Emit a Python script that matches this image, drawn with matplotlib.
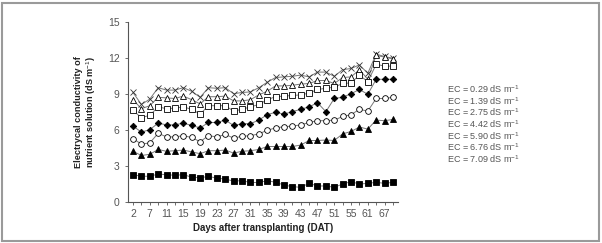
import matplotlib
matplotlib.use("Agg")
import matplotlib.pyplot as plt
from matplotlib.patches import Rectangle

# ---------------------------------------------------------------- data
days = ["2", "5", "7", "9", "11", "13", "15", "17", "19", "21", "23", "25", "27", "29", "31", "33",
        "35", "37", "39", "41", "43", "45", "47", "49", "51", "53", "55", "58", "61", "64", "67", "69"]
shown_days = ["2", "7", "11", "15", "19", "23", "27", "31", "35", "39", "43", "47", "51", "55", "61", "67"]

ec_x = [9.1, 8.1, 8.55, 9.5, 9.3, 9.3, 9.5, 9.2, 8.7, 9.5, 9.45, 9.5, 9.0, 9.1, 9.15, 9.5,
        9.95, 10.35, 10.4, 10.45, 10.55, 10.4, 10.8, 10.8, 10.45, 11.0, 11.1, 11.4, 10.7, 12.3, 12.1, 11.95]
ec_tri_open = [8.5, 7.75, 8.0, 8.7, 8.65, 8.6, 8.8, 8.5, 8.15, 8.75, 8.75, 8.8, 8.4, 8.4, 8.5, 8.9,
               9.2, 9.65, 9.65, 9.7, 9.8, 9.85, 10.1, 10.1, 9.85, 10.35, 10.4, 11.0, 10.2, 12.2, 12.05, 11.9]
ec_sq_open = [7.6, 7.0, 7.2, 7.9, 7.75, 7.8, 7.9, 7.7, 7.3, 8.0, 8.0, 8.0, 7.55, 7.7, 7.9, 8.1,
              8.5, 8.75, 8.8, 8.85, 8.9, 9.05, 9.35, 9.45, 9.55, 9.85, 9.9, 10.55, 10.0, 11.45, 11.3, 11.3]
ec_diamond = [6.3, 5.8, 6.0, 6.55, 6.4, 6.4, 6.55, 6.35, 6.15, 6.6, 6.6, 6.8, 6.35, 6.5, 6.5, 6.8,
              7.25, 7.45, 7.3, 7.5, 7.7, 7.9, 8.25, 7.5, 8.6, 8.7, 9.0, 9.35, 8.95, 10.2, 10.2, 10.2]
ec_circle = [5.25, 4.8, 4.9, 5.7, 5.4, 5.4, 5.5, 5.35, 5.0, 5.5, 5.4, 5.6, 5.3, 5.45, 5.5, 5.65,
             5.95, 6.15, 6.25, 6.3, 6.4, 6.6, 6.75, 6.75, 6.8, 7.1, 7.25, 7.7, 7.55, 8.6, 8.6, 8.7]
ec_tri = [4.2, 3.85, 3.95, 4.35, 4.2, 4.25, 4.3, 4.15, 4.0, 4.25, 4.25, 4.3, 4.05, 4.2, 4.25, 4.35,
          4.6, 4.6, 4.6, 4.6, 4.72, 5.1, 5.1, 5.14, 5.1, 5.65, 5.85, 6.22, 6.05, 6.8, 6.75, 6.85]
ec_sq = [2.25, 2.12, 2.12, 2.3, 2.25, 2.2, 2.25, 2.05, 2.0, 2.1, 1.97, 1.88, 1.72, 1.75, 1.6, 1.6,
         1.75, 1.62, 1.39, 1.25, 1.2, 1.53, 1.31, 1.31, 1.2, 1.47, 1.67, 1.47, 1.53, 1.61, 1.53, 1.61]

legend_labels = ["EC = 0.29 dS m$^{-1}$", "EC = 1.39 dS m$^{-1}$", "EC = 2.75 dS m$^{-1}$",
                 "EC = 4.42 dS m$^{-1}$", "EC = 5.90 dS m$^{-1}$", "EC = 6.76 dS m$^{-1}$",
                 "EC = 7.09 dS m$^{-1}$"]

# ---------------------------------------------------------------- style
plt.rcParams["font.family"] = ["Liberation Sans", "DejaVu Sans"]
plt.rcParams["mathtext.fontset"] = "custom"
plt.rcParams["mathtext.rm"] = "Liberation Sans"
GRAY = "#555555"

fig = plt.figure(figsize=(6.02, 2.43), dpi=100)
ax = fig.add_axes([0.2126, 0.17, 0.4485, 0.7407])

x = list(range(len(days)))
series = [
    (ec_x, "x", "black"),
    (ec_tri_open, "^", "white"),
    (ec_sq_open, "s", "white"),
    (ec_diamond, "D", "black"),
    (ec_circle, "o", "white"),
    (ec_tri, "^", "black"),
    (ec_sq, "s", "black"),
]
for vals, mk, face in series:
    ms = 4.1
    if mk == "D":
        ms = 3.3
    elif mk == "s":
        ms = 3.9
    ax.plot(x, vals, color="#777777", lw=0.7, zorder=2)
    ax.plot(x, vals, ls="none", marker=mk, ms=ms, mfc=face,
            mec="#333333" if mk == "x" else "black", mew=0.6, zorder=3)

ax.set_ylim(0, 15)
ax.set_xlim(-0.6, 31.6)
ax.set_yticks([0, 3, 6, 9, 12, 15])
ax.set_xticks(x)
ax.set_xticklabels([d if d in shown_days else "" for d in days])
ax.tick_params(axis="both", colors=GRAY, labelsize=7.5, length=2.5, width=0.6, direction="out")
ax.tick_params(axis="x", pad=3)
for s in ["top", "right"]:
    ax.spines[s].set_visible(False)
for s in ["left", "bottom"]:
    ax.spines[s].set_color(GRAY)
    ax.spines[s].set_linewidth(0.8)

ax.set_ylabel("Electrycal conductivity of\nnutrient solution (dS m$^{-1}$)",
              fontsize=6.6, fontweight="bold", color="#222222", labelpad=7,
              linespacing=1.15)
ax.set_xlabel("Days after transplanting (DAT)", fontsize=7, fontweight="bold",
              color="#222222", labelpad=3)

for i, lab in enumerate(legend_labels):
    fig.text(447 / 602, 1 - (89 + i * 11.7) / 243, lab, fontsize=6.5, color=GRAY,
             va="center", ha="left")

fig.patches.append(Rectangle((2 / 602, 2 / 243), 597 / 602, 238 / 243,
                             transform=fig.transFigure, fill=False,
                             edgecolor="#9a9a9a", lw=1.5))

fig.savefig("out.png", dpi=100)
